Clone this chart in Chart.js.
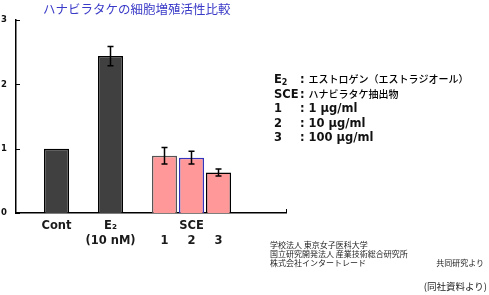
<!DOCTYPE html>
<html>
<head>
<meta charset="utf-8">
<script src="https://cdn.jsdelivr.net/npm/chart.js@4.4.0/dist/chart.umd.min.js"></script>
<style>
  body { margin: 0; background: #fff; }
  #wrap { position: relative; width: 489px; height: 295px; overflow: hidden; }
  #wrap canvas { position: absolute; left: 0; top: 0; }
  .jp { font-family: "Noto Sans CJK JP", sans-serif; }
  #title { position: absolute; left: 43px; top: -1px; font-size: 12.5px; color: #3a3ac8; white-space: nowrap; }
  #notes { position: absolute; left: 274px; top: 72px; font-family: "DejaVu Sans", sans-serif; font-weight: bold; font-size: 11.5px; color: #111; }
  #notes .row { height: 14.5px; line-height: 14.5px; white-space: nowrap; }
  #notes .k { display: inline-block; width: 26px; }
  #notes .jp { font-weight: 500; font-size: 10px; color: #000; }
  #notes sub { font-size: 8px; vertical-align: -2px; }
  .credit { position: absolute; font-size: 8px; color: #222; white-space: nowrap; line-height: 9px; }
</style>
</head>
<body>
<div id="wrap">
  <canvas id="grafica" width="489" height="295"></canvas>
  <div id="title" class="jp">ハナビラタケの細胞増殖活性比較</div>
  <div id="notes">
    <div class="row"><span class="k">E<sub>2</sub></span>: <span class="jp">エストロゲン（エストラジオール）</span></div>
    <div class="row"><span class="k">SCE</span>: <span class="jp">ハナビラタケ抽出物</span></div>
    <div class="row"><span class="k">1</span>: 1 μg/ml</div>
    <div class="row"><span class="k">2</span>: 10 μg/ml</div>
    <div class="row"><span class="k">3</span>: 100 μg/ml</div>
  </div>
  <div class="credit jp" style="left:270px; top:240px;">学校法人 東京女子医科大学<br>国立研究開発法人 産業技術総合研究所<br>株式会社インタートレード</div>
  <div class="credit jp" style="right:5px; top:258px;">共同研究より</div>
  <div class="credit jp" style="right:2px; top:280px; font-size:9.5px; line-height:12px;">(同社資料より)</div>
</div>
<script>
// slots on the x axis (10 equal slots, only some hold bars)
const labelTop = ['', 'Cont', '', 'E₂', '', '', 'SCE', '', '', ''];
const labelBottom = ['', '', '', '(10 nM)', '', '1', '2', '3', '', ''];
const values = [null, 1.0, null, 2.44, null, 0.89, 0.86, 0.63, null, null];
const errors = [null, 0, null, 0.15, null, 0.13, 0.10, 0.055, null, null];
const yTicks = [0, 1, 2, 3];

const fillColors = ['#404040', '#404040', '#404040', '#404040', '#ff9999', '#ff9999', '#ff9999', '#ff9999', '#ff9999', '#ff9999'];
const edgeColors = ['#000', '#000', '#000', '#000', '#555', '#555', '#3333bb', '#000', '#000', '#000'];

const labels = labelTop.map((t, i) => [t, labelBottom[i]]);

/* barras de error + marcas interiores del eje */
const extras = {
  id: 'extras',
  afterDatasetsDraw(chart) {
    const ctx = chart.ctx;
    const x = chart.scales.x, y = chart.scales.y;
    const area = chart.chartArea;
    ctx.save();
    ctx.strokeStyle = '#000';
    ctx.lineWidth = 1.5;
    values.forEach((v, i) => {
      if (v === null || !errors[i]) return;
      const cx = x.getPixelForValue(i);
      const top = y.getPixelForValue(v + errors[i]);
      const bot = y.getPixelForValue(v - errors[i]);
      ctx.beginPath();
      ctx.moveTo(cx, top); ctx.lineTo(cx, bot);
      ctx.moveTo(cx - 3, top); ctx.lineTo(cx + 3, top);
      ctx.moveTo(cx - 3, bot); ctx.lineTo(cx + 3, bot);
      ctx.stroke();
    });
    ctx.lineWidth = 1;
    yTicks.forEach(t => {
      const py = Math.round(y.getPixelForValue(t)) + 0.5;
      ctx.beginPath();
      ctx.moveTo(area.left, py); ctx.lineTo(area.left + 4, py);
      ctx.stroke();
    });
    ctx.beginPath();
    ctx.moveTo(Math.round(area.right) + 0.5, area.bottom);
    ctx.lineTo(Math.round(area.right) + 0.5, area.bottom - 4);
    ctx.stroke();
    ctx.restore();
  }
};

new Chart(document.getElementById('grafica').getContext('2d'), {
  type: 'bar',
  data: {
    labels: labels,
    datasets: [{
      data: values,
      backgroundColor: fillColors,
      borderColor: edgeColors,
      borderWidth: 1.5,
      barPercentage: 0.93,
      categoryPercentage: 1
    }]
  },
  options: {
    responsive: false,
    animation: false,
    layout: { padding: { left: 0, right: 203, top: 20, bottom: 0 } },
    plugins: {
      legend: { display: false },
      tooltip: { enabled: false }
    },
    scales: {
      x: {
        grid: { display: false, drawTicks: false },
        border: { display: true, color: '#000', width: 1.5 },
        ticks: {
          autoSkip: false,
          maxRotation: 0,
          padding: 6,
          color: '#1a1a1a',
          font: { family: 'DejaVu Sans', size: 11.5, weight: 'bold', lineHeight: 1.25 }
        },
        afterFit: scale => { scale.height = 82; }
      },
      y: {
        min: 0,
        max: 3,
        grid: { display: false, drawTicks: false },
        border: { display: true, color: '#000', width: 1.5 },
        ticks: {
          stepSize: 1,
          padding: 9,
          color: '#111',
          font: { family: 'DejaVu Sans', size: 8.5, weight: 'bold' }
        },
        afterFit: scale => { scale.width = 16; }
      }
    }
  },
  plugins: [extras]
});
</script>
</body>
</html>
